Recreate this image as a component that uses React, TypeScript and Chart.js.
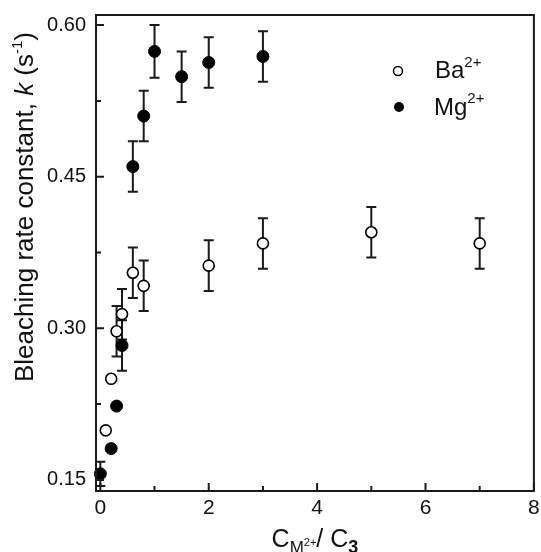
import React, { useEffect, useRef } from "react";
import { Chart, registerables } from "chart.js";

Chart.register(...registerables);

// ---- data ----
const baX = [0.1, 0.2, 0.3, 0.4, 0.6, 0.8, 2, 3, 5, 7];
const baY = [0.199, 0.25, 0.297, 0.314, 0.355, 0.342, 0.362, 0.384, 0.395, 0.384];
const baErr = [0, 0, 0.025, 0.025, 0.025, 0.025, 0.025, 0.025, 0.025, 0.025];

const mgX = [0, 0.2, 0.3, 0.4, 0.6, 0.8, 1, 1.5, 2, 3];
const mgY = [0.156, 0.181, 0.223, 0.283, 0.46, 0.51, 0.574, 0.549, 0.563, 0.569];
const mgErr = [0.012, 0, 0, 0.025, 0.025, 0.025, 0.026, 0.025, 0.025, 0.025];

const xMajorTicks = [0, 2, 4, 6, 8];
const xMinorTicks = [1, 3, 5, 7];
const yMajorTicks = [0.15, 0.3, 0.45, 0.6];
const yMinorTicks = [0.225, 0.375, 0.525];

const FONT = '"Liberation Sans", Arial, Helvetica, sans-serif';
const INK = "#111";

type Seg = { t: string; font: string; dy: number };

function drawRich(ctx: CanvasRenderingContext2D, segs: Seg[], x: number, y: number, align: "center" | "left") {
  let w = 0;
  for (const s of segs) {
    ctx.font = s.font;
    w += ctx.measureText(s.t).width;
  }
  let cx = align === "center" ? x - w / 2 : x;
  ctx.textAlign = "left";
  ctx.textBaseline = "alphabetic";
  for (const s of segs) {
    ctx.font = s.font;
    ctx.fillText(s.t, cx, y + s.dy);
    cx += ctx.measureText(s.t).width;
  }
}

const errorBarPlugin = {
  id: "errorBars",
  beforeDatasetsDraw(chart: any) {
    const ctx = chart.ctx as CanvasRenderingContext2D;
    const xs = chart.scales.x;
    const ys = chart.scales.y;
    const sets = [
      { x: baX, y: baY, e: baErr },
      { x: mgX, y: mgY, e: mgErr },
    ];
    ctx.save();
    ctx.strokeStyle = "#1a1a1a";
    ctx.lineWidth = 2;
    for (const s of sets) {
      s.x.forEach((xv, i) => {
        const err = s.e[i];
        if (!err) return;
        const px = xs.getPixelForValue(xv);
        const top = ys.getPixelForValue(s.y[i] + err);
        const bot = ys.getPixelForValue(s.y[i] - err);
        ctx.beginPath();
        ctx.moveTo(px, top);
        ctx.lineTo(px, bot);
        ctx.moveTo(px - 5, top);
        ctx.lineTo(px + 5, top);
        ctx.moveTo(px - 5, bot);
        ctx.lineTo(px + 5, bot);
        ctx.stroke();
      });
    }
    ctx.restore();
  },
};

const framePlugin = {
  id: "frame",
  afterDraw(chart: any) {
    const ctx = chart.ctx as CanvasRenderingContext2D;
    const { left, right, top, bottom } = chart.chartArea;
    const xs = chart.scales.x;
    const ys = chart.scales.y;
    ctx.save();
    ctx.strokeStyle = "#1a1a1a";
    ctx.lineWidth = 2;
    ctx.strokeRect(left, top, right - left, bottom - top);
    ctx.beginPath();
    for (const v of xMajorTicks) {
      const p = xs.getPixelForValue(v);
      ctx.moveTo(p, bottom);
      ctx.lineTo(p, bottom - 8);
    }
    for (const v of xMinorTicks) {
      const p = xs.getPixelForValue(v);
      ctx.moveTo(p, bottom);
      ctx.lineTo(p, bottom - 5);
    }
    for (const v of yMajorTicks) {
      const p = ys.getPixelForValue(v);
      ctx.moveTo(left, p);
      ctx.lineTo(left + 8, p);
    }
    for (const v of yMinorTicks) {
      const p = ys.getPixelForValue(v);
      ctx.moveTo(left, p);
      ctx.lineTo(left + 5, p);
    }
    ctx.stroke();

    ctx.fillStyle = INK;
    // y axis title
    ctx.save();
    ctx.translate(33, 207);
    ctx.rotate(-Math.PI / 2);
    drawRich(
      ctx,
      [
        { t: "Bleaching rate constant, ", font: `26px ${FONT}`, dy: 0 },
        { t: "k", font: `italic 26px ${FONT}`, dy: 0 },
        { t: " (s", font: `26px ${FONT}`, dy: 0 },
        { t: "-1", font: `15px ${FONT}`, dy: -11 },
        { t: ")", font: `26px ${FONT}`, dy: 0 },
      ],
      0,
      0,
      "center"
    );
    ctx.restore();

    // x axis title
    drawRich(
      ctx,
      [
        { t: "C", font: `25px ${FONT}`, dy: 0 },
        { t: "M", font: `17px ${FONT}`, dy: 6 },
        { t: "2+", font: `11px ${FONT}`, dy: -1 },
        { t: "/ C", font: `25px ${FONT}`, dy: 0 },
        { t: "3", font: `bold 18px ${FONT}`, dy: 6 },
      ],
      (left + right) / 2,
      547,
      "center"
    );

    // legend
    ctx.lineWidth = 1.5;
    ctx.strokeStyle = "#000";
    ctx.fillStyle = "#fff";
    ctx.beginPath();
    ctx.arc(398, 71, 4.5, 0, Math.PI * 2);
    ctx.fill();
    ctx.stroke();
    ctx.fillStyle = "#000";
    ctx.beginPath();
    ctx.arc(399, 107, 5, 0, Math.PI * 2);
    ctx.fill();
    ctx.fillStyle = INK;
    drawRich(
      ctx,
      [
        { t: "Ba", font: `24px ${FONT}`, dy: 0 },
        { t: "2+", font: `15px ${FONT}`, dy: -11 },
      ],
      435,
      78,
      "left"
    );
    drawRich(
      ctx,
      [
        { t: "Mg", font: `24px ${FONT}`, dy: 0 },
        { t: "2+", font: `15px ${FONT}`, dy: -12 },
      ],
      434,
      115,
      "left"
    );
    ctx.restore();
  },
};

export default function App() {
  const canvasRef = useRef<HTMLCanvasElement | null>(null);

  useEffect(() => {
    document.body.style.margin = "0";
    const canvas = canvasRef.current;
    if (!canvas) return;
    const chart = new Chart(canvas, {
      type: "scatter",
      data: {
        datasets: [
          {
            label: "Ba2+",
            data: baX.map((x, i) => ({ x, y: baY[i] })),
            pointRadius: 5.5,
            pointBackgroundColor: "#fff",
            pointBorderColor: "#000",
            pointBorderWidth: 1.6,
            clip: false as any,
          },
          {
            label: "Mg2+",
            data: mgX.map((x, i) => ({ x, y: mgY[i] })),
            pointRadius: 6,
            pointBackgroundColor: "#000",
            pointBorderColor: "#000",
            pointBorderWidth: 1,
            clip: false as any,
          },
        ],
      },
      options: {
        responsive: false,
        animation: false,
        devicePixelRatio: 1,
        layout: { padding: { left: 0, top: 15, right: 5, bottom: 0 } },
        plugins: {
          legend: { display: false },
          tooltip: { enabled: false },
        },
        scales: {
          x: {
            type: "linear",
            min: -0.08,
            max: 8,
            grid: { display: false, drawTicks: false },
            border: { display: false },
            afterBuildTicks: (scale: any) => {
              scale.ticks = xMajorTicks.map((v) => ({ value: v }));
            },
            afterFit: (scale: any) => {
              scale.height = 61;
              scale.paddingLeft = 0;
              scale.paddingRight = 0;
            },
            ticks: {
              color: INK,
              font: { family: FONT, size: 21 },
              padding: 5,
              maxRotation: 0,
              callback: (v: any) => String(v),
            },
          },
          y: {
            type: "linear",
            min: 0.139,
            max: 0.61,
            grid: { display: false, drawTicks: false },
            border: { display: false },
            afterBuildTicks: (scale: any) => {
              scale.ticks = yMajorTicks.map((v) => ({ value: v }));
            },
            afterFit: (scale: any) => {
              scale.width = 96;
              scale.paddingTop = 0;
              scale.paddingBottom = 0;
            },
            ticks: {
              color: INK,
              font: { family: FONT, size: 20 },
              padding: 10,
              callback: (v: any) => Number(v).toFixed(2),
            },
          },
        },
      },
      plugins: [errorBarPlugin, framePlugin],
    });
    return () => chart.destroy();
  }, []);

  return (
    <div style={{ width: 541, height: 552 }}>
      <canvas ref={canvasRef} width={541} height={552} style={{ display: "block" }} />
    </div>
  );
}
